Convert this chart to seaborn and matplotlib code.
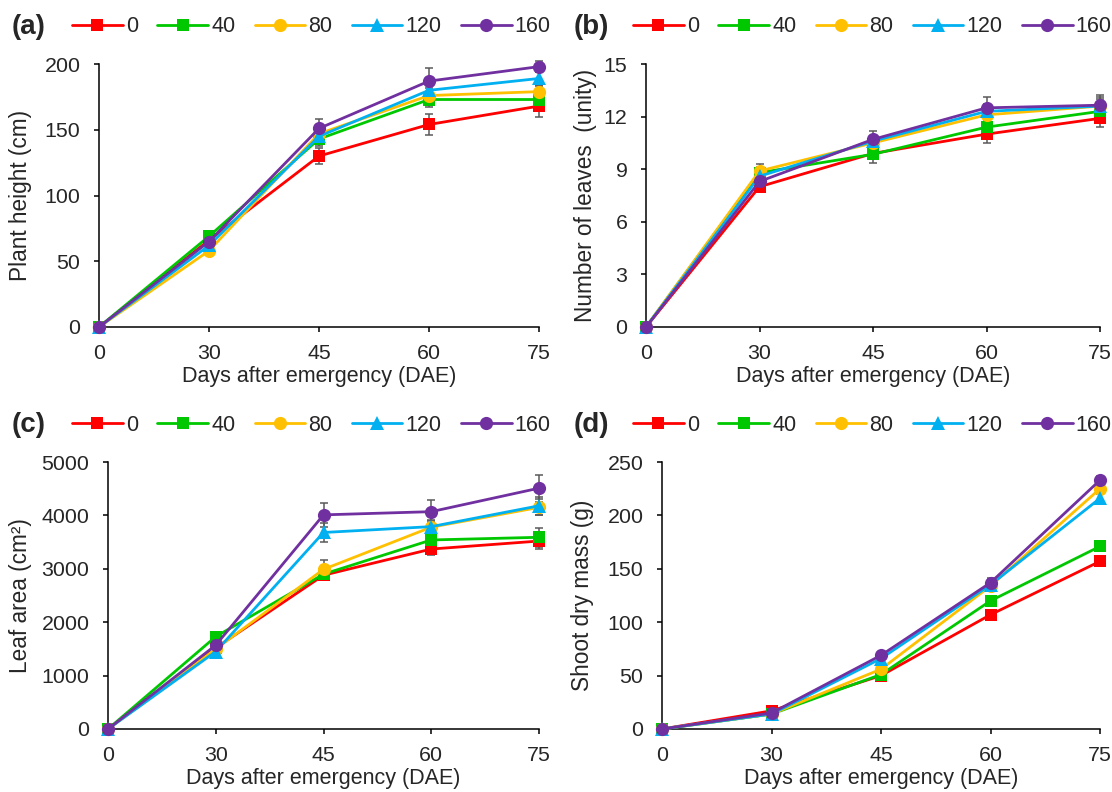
import numpy as np
import pandas as pd
import matplotlib
matplotlib.use("Agg")
import matplotlib.pyplot as plt
import seaborn as sns

# Data
days = [0, 30, 45, 60, 75]
doses = ["0", "40", "80", "120", "160"]

height = {
    "0":   [0, 66, 130, 154, 168],
    "40":  [0, 69, 143, 173, 173],
    "80":  [0, 58, 147, 176, 179],
    "120": [0, 62, 145, 180, 189],
    "160": [0, 65, 151, 187, 198],
}
height_err = {
    "0":   [0, 2, 6, 8, 8],
    "40":  [0, 2, 5, 6, 4],
    "80":  [0, 2, 5, 6, 4],
    "120": [0, 2, 5, 6, 5],
    "160": [0, 2, 7, 10, 4],
}
leaves = {
    "0":   [0, 8.0, 9.9, 11.0, 11.9],
    "40":  [0, 8.8, 9.85, 11.4, 12.3],
    "80":  [0, 8.9, 10.5, 12.1, 12.6],
    "120": [0, 8.6, 10.6, 12.3, 12.6],
    "160": [0, 8.3, 10.7, 12.5, 12.65],
}
leaves_err = {
    "0":   [0, 0.2, 0.3, 0.5, 0.5],
    "40":  [0, 0.3, 0.5, 0.4, 0.4],
    "80":  [0, 0.4, 0.3, 0.4, 0.4],
    "120": [0, 0.3, 0.3, 0.4, 0.5],
    "160": [0, 0.3, 0.5, 0.6, 0.6],
}
leaf_area = {
    "0":   [0, 1520, 2880, 3370, 3520],
    "40":  [0, 1730, 2900, 3540, 3590],
    "80":  [0, 1500, 2990, 3780, 4150],
    "120": [0, 1450, 3680, 3790, 4180],
    "160": [0, 1570, 4010, 4070, 4510],
}
leaf_area_err = {
    "0":   [0, 60, 80, 120, 150],
    "40":  [0, 60, 100, 120, 180],
    "80":  [0, 60, 170, 120, 150],
    "120": [0, 60, 180, 120, 170],
    "160": [0, 60, 220, 220, 250],
}
dry_mass = {
    "0":   [0, 17, 50, 107, 157],
    "40":  [0, 14, 51, 120, 171],
    "80":  [0, 14, 56, 134, 225],
    "120": [0, 14, 66, 135, 216],
    "160": [0, 15, 69, 137, 233],
}
dry_mass_err = {
    "0":   [0, 2, 3, 4, 4],
    "40":  [0, 2, 3, 4, 4],
    "80":  [0, 2, 3, 4, 4],
    "120": [0, 2, 3, 4, 4],
    "160": [0, 2, 3, 4, 4],
}

colors = {"0": "#FF0000", "40": "#00C800", "80": "#FFC000", "120": "#00B0F0", "160": "#7030A0"}
markers = {"0": "s", "40": "s", "80": "o", "120": "^", "160": "o"}
msizes = {"0": 9, "40": 9, "80": 9.5, "120": 9.5, "160": 9.5}

sns.set_theme(style="ticks")
plt.rcParams["font.family"] = ["Liberation Sans", "DejaVu Sans"]

W, H = 1112, 792
fig = plt.figure(figsize=(W / 100, H / 100), dpi=100)

# axes boxes in pixels: left, right, top, bottom; legend row y, x of tag / first handle, y label centre
panels = [
    ("(a)", height, height_err, "Plant height (cm)", 200, 50, (99, 539, 64, 327), 27, 12, 72, -78),
    ("(b)", leaves, leaves_err, "Number of leaves  (unity)", 15, 3, (646, 1100, 64, 327), 27, 574, 633, -60),
    ("(c)", leaf_area, leaf_area_err, "Leaf area (cm²)", 5000, 1000, (108, 539, 462, 729), 425, 12, 72, -87),
    ("(d)", dry_mass, dry_mass_err, "Shoot dry mass (g)", 250, 50, (662, 1100, 462, 729), 425, 574, 633, -79),
]

for tag, values, errs, ylabel, ymax, ystep, box, leg_py, tag_px, hnd_px, ylab_px in panels:
    l, r, t, b = box
    ax = fig.add_axes([l / W, 1 - b / H, (r - l) / W, (b - t) / H])
    rows = []
    for d in doses:
        for i, day in enumerate(days):
            rows.append({"pos": i, "dose": d, "value": values[d][i]})
    df = pd.DataFrame(rows)

    for d in doses:
        ax.errorbar(range(len(days)), values[d], yerr=errs[d], fmt="none",
                    ecolor="#5A5A5A", elinewidth=1.1, capsize=3.2, capthick=1.1,
                    zorder=1, clip_on=False)

    for d in doses:
        sns.lineplot(data=df[df["dose"] == d], x="pos", y="value", color=colors[d],
                     marker=markers[d], markersize=msizes[d], linewidth=2.0,
                     markeredgewidth=0, ax=ax, legend=False, zorder=3, clip_on=False)

    ax.set_xlim(0, 4)
    ax.set_ylim(0, ymax)
    ax.set_xticks(range(len(days)))
    ax.set_xticklabels([str(d) for d in days])
    ax.set_yticks(np.arange(0, ymax + ystep / 2, ystep))
    ax.tick_params(axis="both", labelsize=15.4, direction="out", length=3.8, width=1.1, color="black")
    ax.tick_params(axis="y", pad=9.5)
    ax.tick_params(axis="x", pad=8.5)
    ax.set_xlabel("Days after emergency (DAE)", fontsize=15.5, labelpad=2)
    ax.set_ylabel(ylabel, fontsize=16.3)
    # label anchor is its right edge; shift so the centre sits at ylab_px
    ax.yaxis.set_label_coords((ylab_px + 11) / (r - l), 0.5)
    for s in ["top", "right"]:
        ax.spines[s].set_visible(False)
    for s in ["left", "bottom"]:
        ax.spines[s].set_linewidth(1.1)
        ax.spines[s].set_color("black")

    handles = [plt.Line2D([], [], color=colors[d], marker=markers[d], markersize=msizes[d],
                          markeredgewidth=0, linewidth=2.0) for d in doses]
    leg_y = 1 - leg_py / H
    fig.text(tag_px / W, leg_y, tag, fontsize=20, fontweight="bold", va="center", ha="left")
    fig.legend(handles, doses, loc="center left", bbox_to_anchor=(hnd_px / W, leg_y),
               ncol=5, frameon=False, fontsize=15.5, handlelength=2.35, handletextpad=0.15,
               columnspacing=0.9, borderaxespad=0, borderpad=0)

fig.savefig("out.png", dpi=100)
